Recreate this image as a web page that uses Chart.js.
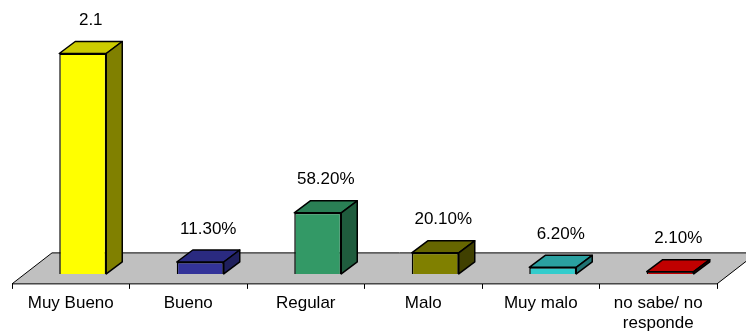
<!DOCTYPE html>
<html lang="es">
<head>
<meta charset="UTF-8">
<title>Evaluación</title>
<script src="https://cdn.jsdelivr.net/npm/chart.js"></script>
<style>
  html, body { margin: 0; padding: 0; background: #fff; }
</style>
</head>
<body>
<canvas id="chart" width="746" height="333"></canvas>
<script>
// data
const categories = ['Muy Bueno', 'Bueno', 'Regular', 'Malo', 'Muy malo', ['no sabe/ no', 'responde']];
const values = [2.1, 0.113, 0.582, 0.201, 0.062, 0.021];
const valueFormats = ['general', 'percent', 'percent', 'percent', 'percent', 'percent'];

// face colours: front, top, right side
const frontColors = ['#ffff00', '#333399', '#339966', '#808000', '#33cccc', '#c00000'];
const topColors   = ['#cccc00', '#2a2a80', '#2a7f55', '#666600', '#2aa0a0', '#c00000'];
const sideColors  = ['#808000', '#1f1f5c', '#1f5c3d', '#404000', '#1f7373', '#600000'];

const FONT = 'Arial, "Liberation Sans", sans-serif';
const FLOOR_DX = 40, FLOOR_DY = 31;  // depth of the grey floor
const BAR_DX = 16, BAR_DY = 12;      // depth of each bar
const SET_DX = 12, SET_DY = 10;      // bars stand a bit behind the floor's front edge

function fmt(v, kind) {
    return kind === 'percent' ? (v * 100).toFixed(2) + '%' : String(v);
}

function poly(ctx, pts, fill) {
    ctx.beginPath();
    ctx.moveTo(pts[0][0], pts[0][1]);
    for (let i = 1; i < pts.length; i++) ctx.lineTo(pts[i][0], pts[i][1]);
    ctx.closePath();
    ctx.fillStyle = fill;
    ctx.fill();
    ctx.stroke();
}

const pseudo3d = {
    id: 'pseudo3d',
    beforeDatasetsDraw(chart) {
        const {ctx, chartArea: a} = chart;
        ctx.save();
        ctx.strokeStyle = '#000';
        ctx.lineWidth = 1;
        poly(ctx, [
            [a.left, a.bottom],
            [a.left + FLOOR_DX, a.bottom - FLOOR_DY],
            [a.right + FLOOR_DX, a.bottom - FLOOR_DY],
            [a.right, a.bottom]
        ], '#c0c0c0');
        ctx.restore();
        // push the bars back onto the floor
        ctx.save();
        ctx.translate(SET_DX, -SET_DY);
    },
    afterDatasetsDraw(chart) {
        const ctx = chart.ctx;
        const meta = chart.getDatasetMeta(0);
        ctx.strokeStyle = '#000';
        ctx.lineWidth = 1.5;
        ctx.lineJoin = 'round';
        meta.data.forEach((bar, i) => {
            const {x, y, base, width} = bar.getProps(['x', 'y', 'base', 'width'], true);
            const l = x - width / 2, r = x + width / 2;
            poly(ctx, [[l, y], [l + BAR_DX, y - BAR_DY], [r + BAR_DX, y - BAR_DY], [r, y]], topColors[i]);
            poly(ctx, [[r, y], [r + BAR_DX, y - BAR_DY], [r + BAR_DX, base - BAR_DY], [r, base]], sideColors[i]);

            ctx.fillStyle = '#000';
            ctx.font = '17px ' + FONT;
            ctx.textAlign = 'center';
            ctx.textBaseline = 'middle';
            ctx.fillText(fmt(values[i], valueFormats[i]), x + BAR_DX / 2, y - BAR_DY - 21);
        });
        ctx.restore();
    }
};

const chart = new Chart(document.getElementById('chart'), {
    type: 'bar',
    data: {
        labels: categories,
        datasets: [{
            data: values,
            backgroundColor: frontColors,
            borderColor: '#000',
            borderWidth: 1.5,
            barPercentage: 0.4,
            categoryPercentage: 1,
            clip: false
        }]
    },
    options: {
        responsive: false,
        animation: false,
        layout: { padding: { left: 12, right: 29, top: 11, bottom: -4 } },
        scales: {
            y: { display: false, min: 0, max: 2.6 },
            x: {
                grid: { offset: true, drawOnChartArea: false, tickLength: 5, color: '#000' },
                border: { color: '#000' },
                ticks: {
                    color: '#000',
                    font: { family: FONT, size: 17, lineHeight: 1.18 },
                    padding: 4,
                    maxRotation: 0,
                    autoSkip: false
                }
            }
        },
        plugins: { legend: { display: false }, tooltip: { enabled: false } }
    },
    plugins: [pseudo3d]
});
</script>
</body>
</html>
